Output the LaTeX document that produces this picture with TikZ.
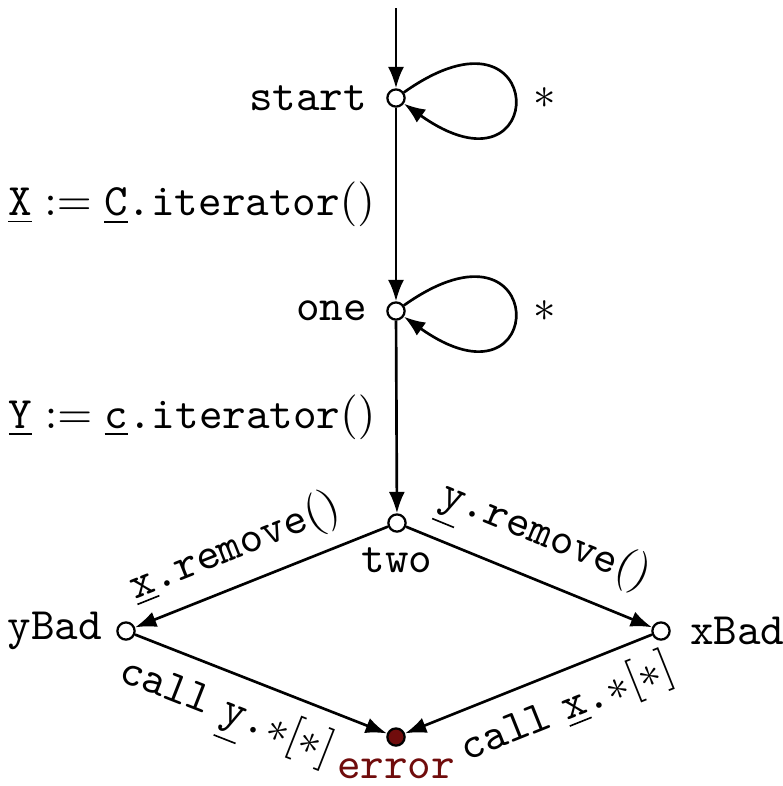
\documentclass[tikz,border=0pt]{standalone}
\usetikzlibrary{arrows.meta}
\definecolor{errred}{RGB}{112,12,12}
\begin{document}
\begin{tikzpicture}[x=0.2439pt,y=-0.2439pt,
  every node/.style={font=\fontsize{10.95}{13}\selectfont},
  state/.style={circle,draw,fill=white,inner sep=0pt,minimum size=4.2pt,line width=0.55pt},
  errstate/.style={state,fill=errred},
  tr/.style={-{Latex[length=5.2pt,width=3.9pt]},line width=0.65pt},
  stlabel/.style={label distance=1.2pt}]
\useasboundingbox (0,0) rectangle (783,786);
\coordinate (init) at (396,8);
\node[state,label={[stlabel]left:\texttt{start}}] (start) at (396,98) {};
\node[state,label={[stlabel]left:\texttt{one}}] (one) at (396,311) {};
\node[state,label={[label distance=0pt]below:\texttt{two}}] (two) at (397,523) {};
\node[state,label={[label distance=0pt]left:\texttt{yBad}}] (yBad) at (126,631) {};
\node[state,label={[label distance=1.2pt]right:\texttt{xBad}}] (xBad) at (661,631) {};
\node[errstate,label={[text=errred,label distance=-0.5pt]below:\texttt{error}}] (error) at (396,737) {};

\draw[tr] (init) -- (start);
\draw[tr] (start) .. controls +(155,-110) and +(155,110) .. (start)
  node[pos=0.5,right=1pt] {$*$};
\draw[tr] (one) .. controls +(155,-110) and +(155,110) .. (one)
  node[pos=0.5,right=1pt] {$*$};
\draw[tr] (start) -- node[left,midway,xshift=-1.5pt]
  {$\underline{\texttt{X}} := \underline{\texttt{C}}\texttt{.iterator}()$} (one);
\draw[tr] (one) -- node[left,midway,xshift=-1.5pt]
  {$\underline{\texttt{Y}} := \underline{\texttt{c}}\texttt{.iterator}()$} (two);
\draw[tr] (two) -- node[sloped,above,pos=0.55]
  {$\underline{\texttt{x}}\texttt{.remove}()$} (yBad);
\draw[tr] (two) -- node[sloped,above,pos=0.5]
  {$\underline{\texttt{y}}\texttt{.remove}()$} (xBad);
\draw[tr] (yBad) -- node[sloped,below,pos=0.42]
  {\texttt{call} $\underline{\texttt{y}}\texttt{.}{*}[{*}]$} (error);
\draw[tr] (xBad) -- node[sloped,below,pos=0.4]
  {\texttt{call} $\underline{\texttt{x}}\texttt{.}{*}[{*}]$} (error);
\end{tikzpicture}
\end{document}
